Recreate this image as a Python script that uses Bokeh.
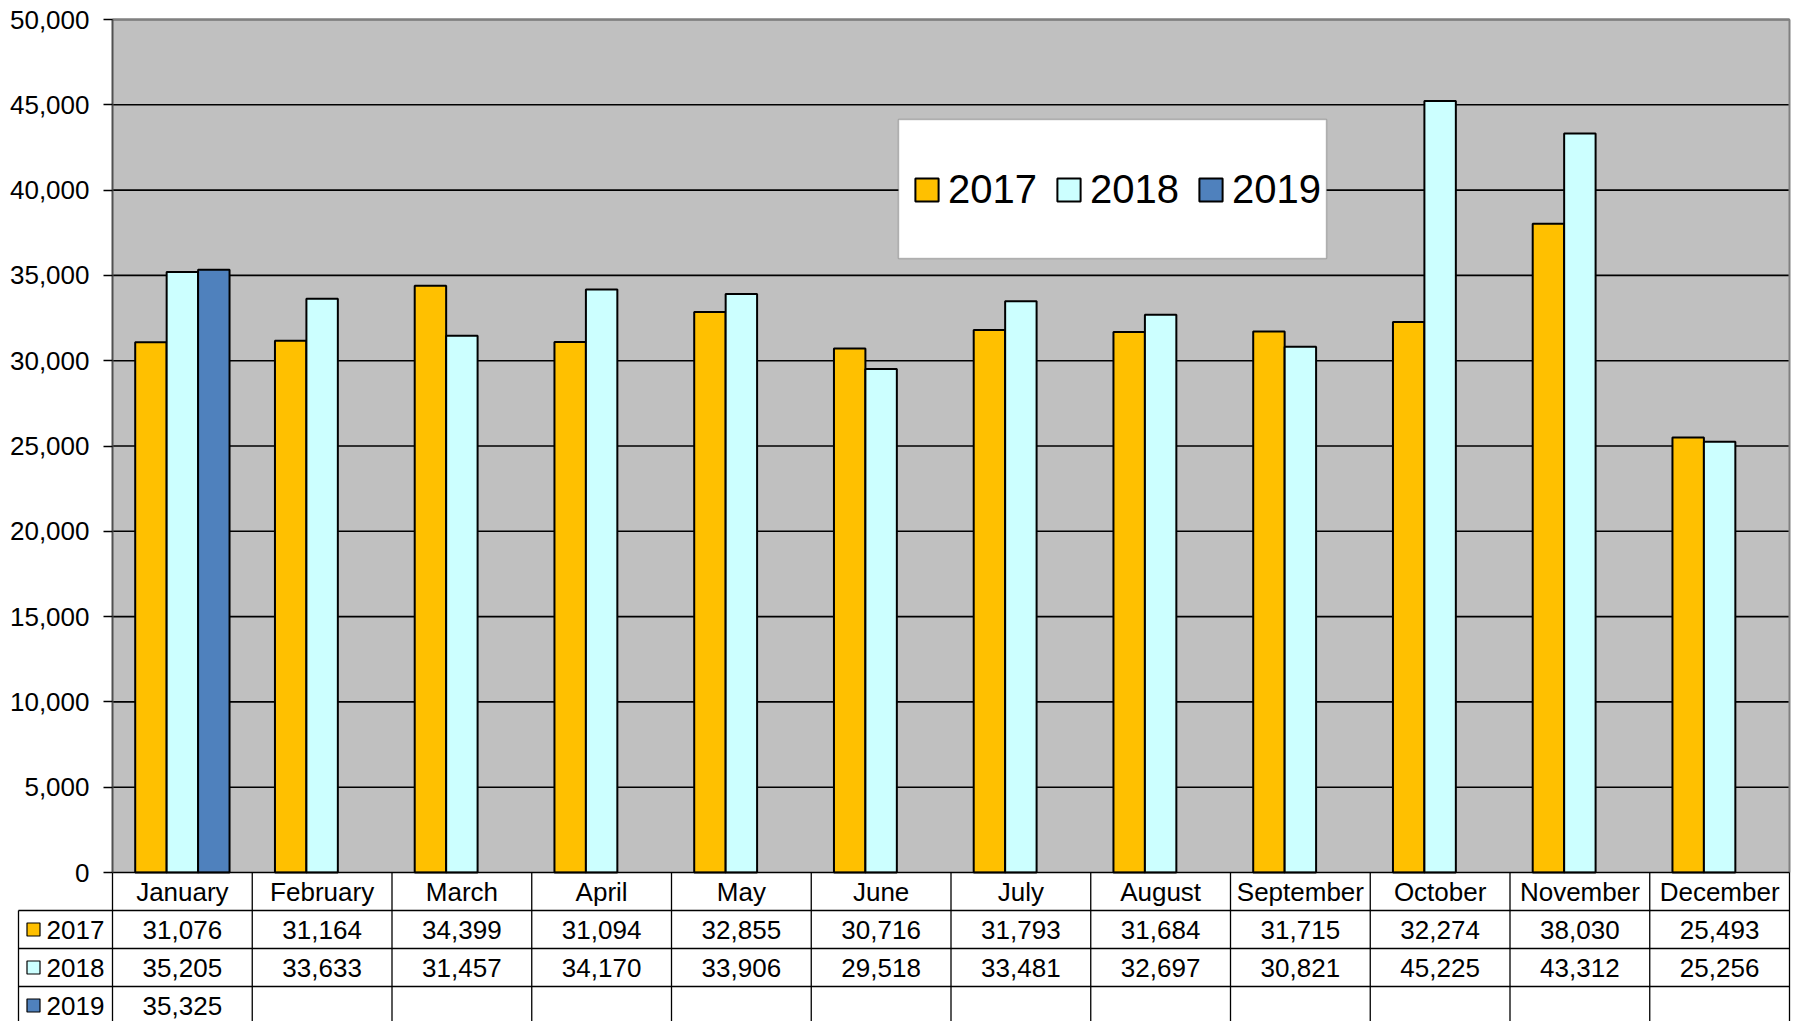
import numpy as np
from bokeh.plotting import figure
from bokeh.models import (Range1d, LinearAxis, FixedTicker, NumeralTickFormatter,
                          Legend, LegendItem, BoxAnnotation)
from bokeh.core.properties import value
from bokeh.embed import file_html
from bokeh.resources import INLINE

# ---------------- data ----------------
months = ["January", "February", "March", "April", "May", "June", "July",
          "August", "September", "October", "November", "December"]
series_names = ["2017", "2018", "2019"]
v2017 = [31076, 31164, 34399, 31094, 32855, 30716, 31793, 31684, 31715, 32274, 38030, 25493]
v2018 = [35205, 33633, 31457, 34170, 33906, 29518, 33481, 32697, 30821, 45225, 43312, 25256]
v2019 = [35325]
yticks = [0, 5000, 10000, 15000, 20000, 25000, 30000, 35000, 40000, 45000, 50000]
colors = ["#FFC000", "#CCFFFF", "#4F81BD"]

FONT = value("Liberation Sans")
n = len(months)
ymax = yticks[-1]

# ---------------- geometry (screen layout) ----------------
W, H = 1792, 1021
left_px = 112            # plot area left edge from figure left
right_px = 1789
cat_px = (right_px - left_px) / n
zero_px = 872            # y=0 from figure top
top_px = 19              # y=ymax from figure top
upp = ymax / (zero_px - top_px)   # data units per pixel

x0 = -left_px / cat_px
x1 = (W - left_px) / cat_px
y1 = ymax + top_px * upp
y0 = -(H - zero_px) * upp

p = figure(width=W, height=H, x_range=Range1d(x0, x1), y_range=Range1d(y0, y1),
           x_axis_type=None, y_axis_type=None, toolbar_location=None,
           output_backend="svg", min_border=0, outline_line_color=None)
p.xgrid.visible = False
p.ygrid.visible = False
p.background_fill_color = "white"
p.border_fill_color = "white"

# plot area background
p.quad(left=[0], right=[n], bottom=[0], top=[ymax], fill_color="#C0C0C0",
       line_color=None)
# grid lines
p.segment(x0=[0] * (len(yticks) - 1), x1=[n] * (len(yticks) - 1),
          y0=yticks[1:], y1=yticks[1:], line_color="black", line_width=1.6)
# plot area border (top/right grey)
p.segment(x0=[0, n], x1=[n, n], y0=[ymax, 0], y1=[ymax, ymax],
          line_color="#808080", line_width=2)

# bars
bw = 0.225
idx = np.arange(n)
renderers = []
for k, (vals, col) in enumerate(zip([v2017, v2018, v2019], colors)):
    xs = idx[:len(vals)] + 0.5 + (k - 1) * bw
    r = p.vbar(x=xs, top=vals, width=bw, bottom=0, fill_color=col,
               line_color="black", line_width=2)
    renderers.append(r)

# bottom axis line
p.segment(x0=[0], x1=[n], y0=[0], y1=[0], line_color="black", line_width=1.6)

# y axis
yax = LinearAxis(fixed_location=0, bounds=(0, ymax),
                 ticker=FixedTicker(ticks=yticks),
                 formatter=NumeralTickFormatter(format="0,0"))
yax.major_label_text_font = "Liberation Sans"
yax.major_label_text_font_size = "26px"
yax.major_label_text_color = "black"
yax.major_tick_out = 9
yax.major_tick_in = 0
yax.minor_tick_out = 0
yax.minor_tick_in = 0
yax.major_tick_line_color = "black"
yax.major_tick_line_width = 1.6
yax.axis_line_color = "#505050"
yax.axis_line_width = 2
yax.major_label_standoff = 14
p.add_layout(yax, "left")

# ---------------- data table ----------------
row_h = 38.0 * upp
hdr_left = -94 / cat_px
n_rows = 4
row_lines = [-(i + 1) * row_h for i in range(n_rows - 1)]
bottom_y = y0 - 1000
bounds_x = list(range(n + 1))
p.segment(x0=bounds_x, x1=bounds_x, y0=[0] * len(bounds_x),
          y1=[bottom_y] * len(bounds_x), line_color="black", line_width=1.3)
p.segment(x0=[hdr_left], x1=[hdr_left], y0=[row_lines[0]], y1=[bottom_y],
          line_color="black", line_width=1.3)
p.segment(x0=[hdr_left] * len(row_lines), x1=[n] * len(row_lines),
          y0=row_lines, y1=row_lines, line_color="black", line_width=1.3)

centers = idx + 0.5
txt_kw = dict(text_font=FONT, text_font_size=value("26px"), text_color="black",
              text_align="center", text_baseline="middle")
p.text(x=centers, y=[-0.5 * row_h] * n, text=months, **txt_kw)
for k, vals in enumerate([v2017, v2018, v2019]):
    yc = -(k + 1.5) * row_h
    p.text(x=centers[:len(vals)], y=[yc] * len(vals),
           text=[f"{v:,}" for v in vals], **txt_kw)

# row headers
hy = [-(k + 1.5) * row_h for k in range(len(series_names))]
p.scatter(x=[hdr_left + 15 / cat_px] * 3, y=hy, marker="square", size=13,
          fill_color=colors, line_color="black", line_width=1.2)
p.text(x=[hdr_left + 28 / cat_px] * 3, y=hy, text=series_names,
       text_font=FONT, text_font_size=value("26px"), text_color="black",
       text_align="left", text_baseline="middle")

# ---------------- legend ----------------
box = BoxAnnotation(left=(898 - left_px) / cat_px, right=(1326 - left_px) / cat_px,
                    top=ymax - (119 - top_px) * upp,
                    bottom=ymax - (258 - top_px) * upp,
                    fill_color="white", fill_alpha=1.0,
                    line_color="#404040", line_width=1.5, level="annotation")
p.add_layout(box)

legend = Legend(items=[LegendItem(label=s, renderers=[r]) for s, r in zip(series_names, renderers)],
                orientation="horizontal", location=(912, H - 212),
                label_text_font="Liberation Sans", label_text_font_size="40px",
                label_text_color="black",
                glyph_width=29, glyph_height=29, label_standoff=7, spacing=17,
                padding=0, margin=0, border_line_alpha=0, background_fill_alpha=0)
p.add_layout(legend)

open("out.html", "w").write(file_html(p, INLINE))
